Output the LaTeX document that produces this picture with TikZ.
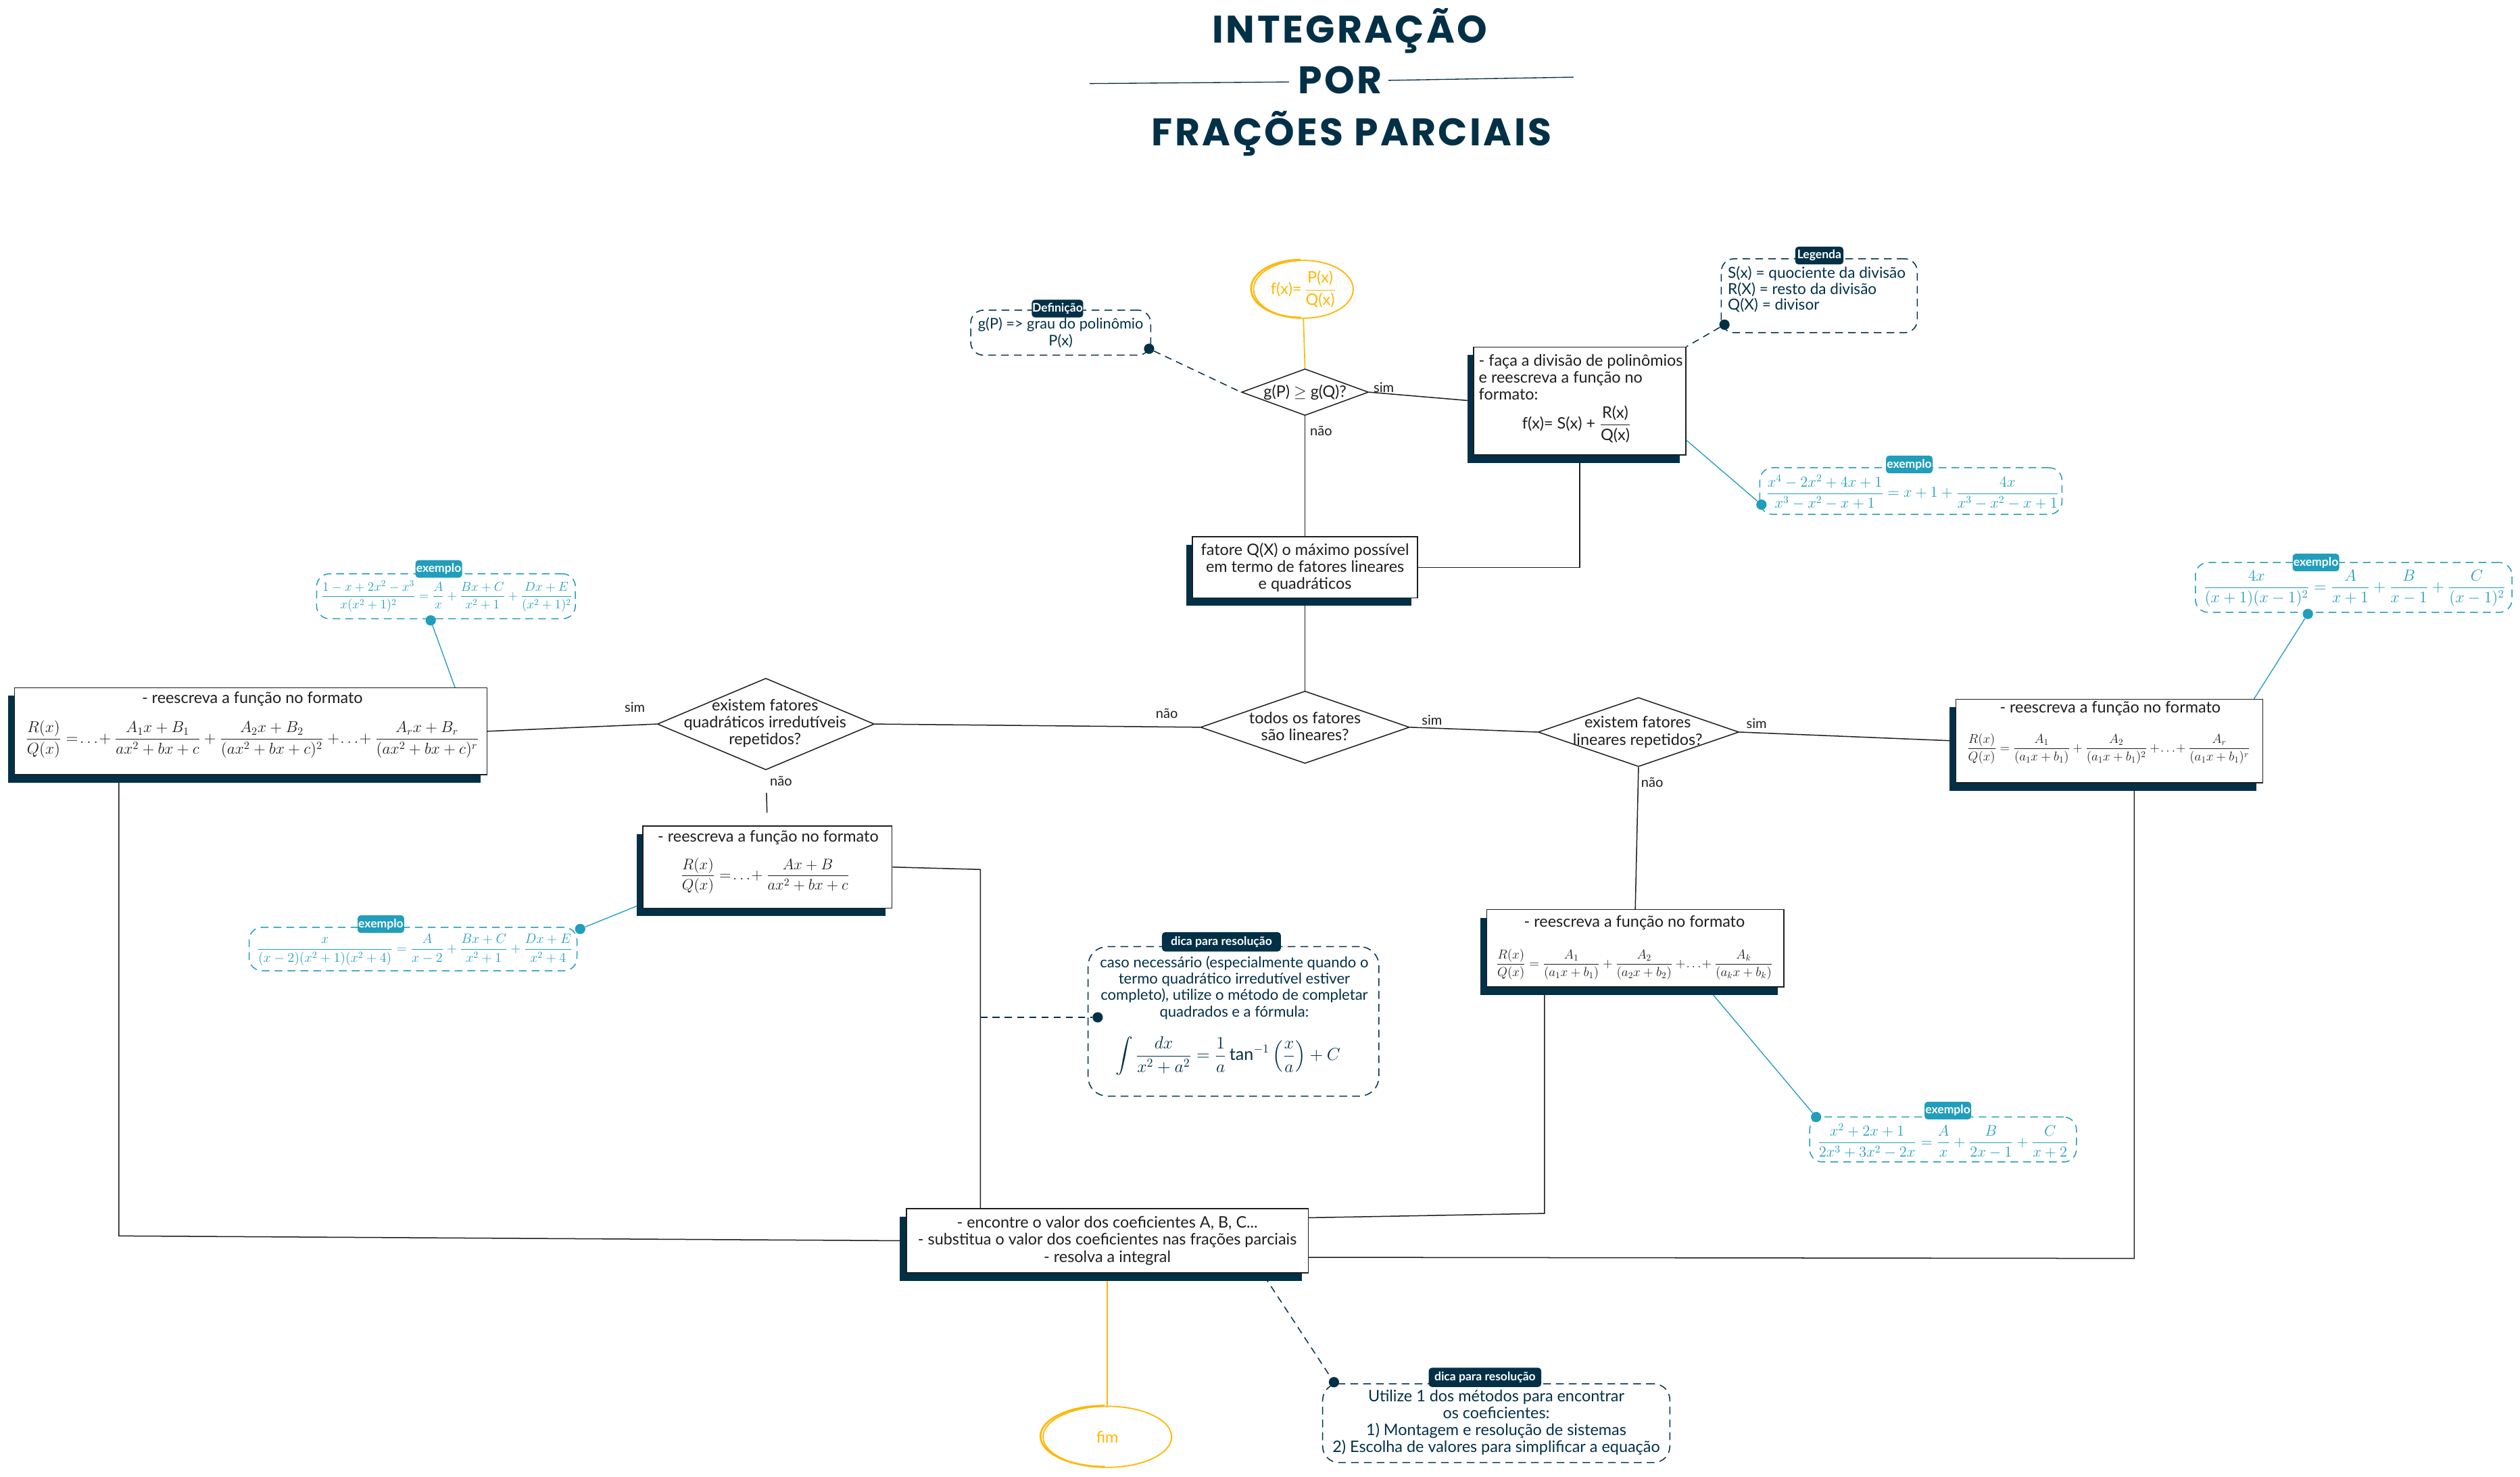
\documentclass[tikz,border=0pt]{standalone}
\usepackage{fontspec}
\usepackage{amsmath}
\usepackage{graphicx}
\usetikzlibrary{shapes.geometric,shadows,backgrounds,calc}
\setmainfont{Lato}
\newfontfamily\titlefont{Poppins}[LetterSpace=6]
\definecolor{cnavy}{HTML}{023047}
\definecolor{cteal}{HTML}{219EBC}
\definecolor{cyel}{HTML}{FFB703}
\definecolor{cink}{HTML}{1E1E1E}
\newcommand{\txt}{\fontsize{14}{15}\selectfont}
\newcommand{\lbltxt}{\fontsize{12}{13}\selectfont}
\newcommand{\tagtxt}{\fontsize{10.5}{11}\selectfont\bfseries}
\newcommand{\ttl}{\titlefont\bfseries\fontsize{34}{36}\selectfont}
\newcommand{\fm}[2]{\resizebox{#1}{!}{$\displaystyle #2$}}
\tikzset{
  mbox/.style={draw=cink, line width=0.9pt, fill=white, inner sep=0pt,
    drop shadow={shadow xshift=-2mm, shadow yshift=-2.5mm, fill=cnavy, opacity=1}},
  dia/.style={draw=cink, line width=0.9pt, diamond, inner sep=0pt, fill=white},
  conn/.style={draw=cink, line width=0.9pt},
  yconn/.style={draw=cyel, line width=1pt},
  tconn/.style={draw=cteal, line width=0.8pt},
  nconn/.style={draw=cnavy, line width=0.9pt, dash pattern=on 2.2mm off 1.6mm},
  nbox/.style={draw=cnavy, line width=0.9pt, dash pattern=on 2.4mm off 1.6mm, rounded corners=4mm, inner sep=0pt},
  tbox/.style={draw=cteal, line width=0.9pt, dash pattern=on 2.4mm off 1.6mm, rounded corners=4mm, inner sep=0pt},
  ntag/.style={fill=cnavy, text=white, rounded corners=1mm, font=\tagtxt, inner sep=0pt, minimum height=5.5mm, minimum width=15mm},
  ttag/.style={fill=cteal, text=white, rounded corners=1mm, font=\tagtxt, inner sep=0pt, minimum height=5.5mm, minimum width=14.5mm},
  ndot/.style={circle, fill=cnavy, inner sep=0pt, minimum size=3.2mm},
  tdot/.style={circle, fill=cteal, inner sep=0pt, minimum size=3.2mm},
  lbl/.style={font=\lbltxt, text=cink, inner sep=0pt},
  body/.style={font=\txt, text=cink, align=center, inner sep=0pt},
  ntx/.style={font=\txt, text=cnavy, align=center, inner sep=0pt},
  ttlst/.style={font=\ttl, text=cnavy, inner sep=0pt},
  yell/.style={ellipse, draw=cyel, line width=1.1pt, text=cyel, font=\txt, inner sep=0pt, fill=white}
}
\begin{document}
\begin{tikzpicture}[x=0.5mm,y=-0.5mm]
\useasboundingbox (0,0) rectangle (1568,919);

% ---------- title ----------
\node[ttlst] (tA) at (840,19) {INTEGRAÇÃO};
\node[ttlst] (tB) at (834,50) {POR};
\node[ttlst] (tC) at (841,83) {FRAÇÕES PARCIAIS};
\draw[cnavy, line width=0.8pt] (678,52) -- (802,51);
\draw[cnavy, line width=0.8pt] (864,50) -- (979,48);

% ---------- start / end ----------
\node[yell, minimum width=31mm, minimum height=18mm] (start) at (811,180)
  {f(x)=\,$\dfrac{\text{P(x)}}{\text{Q(x)}}$};
\draw[cyel, line width=1.6pt] ([xshift=-0.8mm]start.north) arc[start angle=90, end angle=270, x radius=15.5mm, y radius=9mm];
\node[yell, minimum width=40mm, minimum height=19mm] (fim) at (689,894) {fim};
\draw[cyel, line width=1.6pt] ([xshift=-0.8mm]fim.north) arc[start angle=90, end angle=270, x radius=20mm, y radius=9.5mm];

% ---------- decisions ----------
\node[dia, minimum width=39.5mm, minimum height=14.5mm] (d1) at (812,244) {};
\node[body] (d1t) at (d1) {g(P) $\geq$ g(Q)?};
\node[dia, minimum width=65mm, minimum height=22.5mm] (d2) at (812,452.5) {};
\node[body] (d2t) at (812,452) {todos os fatores\\são lineares?};
\node[dia, minimum width=67.5mm, minimum height=28.5mm] (d3) at (476.5,450.5) {};
\node[body] (d3t) at (476,450) {existem fatores\\quadráticos irredutíveis\\repetidos?};
\node[dia, minimum width=62.5mm, minimum height=21.5mm] (d4) at (1019.5,455.5) {};
\node[body] (d4t) at (1019,455.5) {existem fatores\\lineares repetidos?};

% ---------- process boxes ----------
\node[mbox, minimum width=66mm, minimum height=33.5mm] (div) at (983,249.5) {};
\node[body, align=left, anchor=west] (divt) at (920,234.5) {- faça a divisão de polinômios\\e reescreva a função no\\formato:};
\node[body] (divf) at (981,264) {f(x)= S(x) + $\dfrac{\text{R(x)}}{\text{Q(x)}}$};

\node[mbox, minimum width=70mm, minimum height=19mm, font=\txt, align=center, text=cink] (fatore) at (812,353)
  {fatore Q(X) o máximo possível\\em termo de fatores lineares\\e quadráticos};

\node[mbox, minimum width=147mm, minimum height=27mm] (bq) at (156,455) {};
\node[body] (bqt) at (157,435) {- reescreva a função no formato};
\node[body] (bqf) at (157,460) {\fm{141mm}{\frac{R(x)}{Q(x)}=\!\ldots\!+\frac{A_1x+B_1}{ax^2+bx+c}+\frac{A_2x+B_2}{(ax^2+bx+c)^2}+\!\ldots\!+\frac{A_rx+B_r}{(ax^2+bx+c)^r}}};

\node[mbox, minimum width=77.5mm, minimum height=25.5mm] (bqd) at (477.5,539.5) {};
\node[body] (bqdt) at (478,521) {- reescreva a função no formato};
\node[body] (bqdf) at (476,545) {\fm{52.5mm}{\frac{R(x)}{Q(x)}=\!\ldots\!+\frac{Ax+B}{ax^2+bx+c}}};

\node[mbox, minimum width=95.5mm, minimum height=26mm] (blr) at (1312.5,461) {};
\node[body] (blrt) at (1313,441) {- reescreva a função no formato};
\node[body] (blrf) at (1312,466) {\fm{88mm}{\frac{R(x)}{Q(x)}=\frac{A_1}{(a_1x+b_1)}+\frac{A_2}{(a_1x+b_1)^2}+\!\ldots\!+\frac{A_r}{(a_1x+b_1)^r}}};

\node[mbox, minimum width=92.5mm, minimum height=24mm] (bld) at (1017.5,590) {};
\node[body] (bldt) at (1017,574) {- reescreva a função no formato};
\node[body] (bldf) at (1017,600) {\fm{86mm}{\frac{R(x)}{Q(x)}=\frac{A_1}{(a_1x+b_1)}+\frac{A_2}{(a_2x+b_2)}+\!\ldots\!+\frac{A_k}{(a_kx+b_k)}}};

\node[mbox, minimum width=125mm, minimum height=20mm, font=\txt, align=center, text=cink] (final) at (689,772)
  {- encontre o valor dos coeficientes A, B, C...\\- substitua o valor dos coeficientes nas frações parciais\\- resolva a integral};

% ---------- branch labels ----------
\node[lbl] (l1) at (861,241) {sim};
\node[lbl] (l2) at (822,268) {não};
\node[lbl] (l3) at (726,444) {não};
\node[lbl] (l4) at (891,448) {sim};
\node[lbl] (l5) at (395,440) {sim};
\node[lbl] (l6) at (486,486) {não};
\node[lbl] (l7) at (1093,450) {sim};
\node[lbl] (l8) at (1028,487) {não};

% ---------- annotation boxes ----------
\node[nbox, minimum width=61mm, minimum height=23mm] (leg) at (1132,184) {};
\node[ntx, align=left, anchor=west, font=\fontsize{13.5}{14.2}\selectfont] (legt) at (1075,180) {S(x) = quociente da divisão\\R(X) = resto da divisão\\Q(X) = divisor};
\node[ntag] (legtag) at (1132,159) {Legenda};

\node[nbox, minimum width=56mm, minimum height=14mm] (defb) at (660,207) {};
\node[ntx, font=\fontsize{13}{14.5}\selectfont] (deft) at (660,207) {g(P) => grau do polinômio\\P(x)};
\node[ntag, minimum width=16mm] (deftag) at (658,192) {Definição};

\node[tbox, minimum width=94mm, minimum height=14.5mm] (ex1) at (1189,305.5) {};
\node[body, text=cteal] (ex1f) at (1190,306) {\fm{91mm}{\frac{x^4-2x^2+4x+1}{x^3-x^2-x+1}=x+1+\frac{4x}{x^3-x^2-x+1}}};
\node[ttag] (ex1tag) at (1188,289) {exemplo};

\node[tbox, minimum width=80.5mm, minimum height=14mm] (ex2) at (277.5,371) {};
\node[body, text=cteal] (ex2f) at (278,371) {\fm{78mm}{\frac{1-x+2x^2-x^3}{x(x^2+1)^2}=\frac{A}{x}+\frac{Bx+C}{x^2+1}+\frac{Dx+E}{(x^2+1)^2}}};
\node[ttag] (ex2tag) at (273,354) {exemplo};

\node[tbox, minimum width=102mm, minimum height=13.5mm] (ex3) at (257,590.5) {};
\node[body, text=cteal] (ex3f) at (258,591) {\fm{98mm}{\frac{x}{(x-2)(x^2+1)(x^2+4)}=\frac{A}{x-2}+\frac{Bx+C}{x^2+1}+\frac{Dx+E}{x^2+4}}};
\node[ttag] (ex3tag) at (237,575) {exemplo};

\node[tbox, minimum width=98.5mm, minimum height=15.5mm] (ex4) at (1464.5,365.5) {};
\node[body, text=cteal] (ex4f) at (1465,366) {\fm{94mm}{\frac{4x}{(x+1)(x-1)^2}=\frac{A}{x+1}+\frac{B}{x-1}+\frac{C}{(x-1)^2}}};
\node[ttag] (ex4tag) at (1441,350) {exemplo};

\node[tbox, minimum width=83mm, minimum height=14mm] (ex5) at (1209,709) {};
\node[body, text=cteal] (ex5f) at (1209,710) {\fm{78mm}{\frac{x^2+2x+1}{2x^3+3x^2-2x}=\frac{A}{x}+\frac{B}{2x-1}+\frac{C}{x+2}}};
\node[ttag] (ex5tag) at (1212,691) {exemplo};

\node[nbox, rounded corners=6mm, minimum width=90.5mm, minimum height=46.5mm] (dic1) at (767.5,635.5) {};
\node[ntx, font=\fontsize{13.2}{14.6}\selectfont] (dic1t) at (768,614.5) {caso necessário (especialmente quando o\\termo quadrático irredutível estiver\\completo), utilize o método de completar\\quadrados e a fórmula:};
\node[ntx] (dic1f) at (764,657) {\fm{70mm}{\int\frac{dx}{x^2+a^2}=\frac{1}{a}\tan^{-1}\left(\frac{x}{a}\right)+C}};
\node[ntag, minimum width=37mm, minimum height=6mm] (dic1tag) at (760,586) {dica para resolução};

\node[nbox, rounded corners=5mm, minimum width=108mm, minimum height=24.5mm] (dic2) at (931,885.5) {};
\node[ntx, font=\fontsize{14}{15}\selectfont] (dic2t) at (931,885) {Utilize 1 dos métodos para encontrar\\os coeficientes:\\1) Montagem e resolução de sistemas\\2) Escolha de valores para simplificar a equação};
\node[ntag, minimum width=35mm, minimum height=6mm] (dic2tag) at (924,857) {dica para resolução};

% ---------- dots ----------
\node[ndot] (ddef) at (715,217) {};
\node[ndot] (dleg) at (1073,202) {};
\node[tdot] (dex1) at (1096,314) {};
\node[tdot] (dex2) at (268,386) {};
\node[tdot] (dex3) at (361,578) {};
\node[tdot] (dex4) at (1436,382) {};
\node[tdot] (dex5) at (1130,695) {};
\node[ndot] (ddic1) at (683,633) {};
\node[ndot] (ddic2) at (830,860) {};

% ---------- helper coordinates ----------
\coordinate (e1) at (74,769);
\coordinate (e2) at (610,541);
\coordinate (e3) at (1328,783);
\coordinate (e4) at (961,755);
\coordinate (fr1) at ($(final.north east)+(0,6)$);
\coordinate (fr2) at ($(final.south east)+(0,-10)$);
\coordinate (a1) at ($(div.south east)+(-10,-18)$);
\coordinate (a2) at ($(bq.north east)+(-17,9)$);
\coordinate (a3) at ($(bqd.south west)+(10,-7)$);
\coordinate (a4) at ($(blr.north east)+(-7,2)$);
\coordinate (a5) at ($(bld.south east)+(-50,-2)$);
\coordinate (a6) at ($(final.south east)+(-36,-11)$);

% ---------- connectors ----------
\begin{scope}[on background layer]
\fill[white] (0,0) rectangle (1568,919);
\draw[yconn] (start.south) -- (d1.north);
\draw[conn] (d1.east) -- (div.west);
\draw[conn] (d1.south) -- (fatore.north);
\draw[conn] (div.south) |- (fatore.east);
\draw[conn] (fatore.south) -- (d2.north);
\draw[conn] (d2.west) -- (d3.east);
\draw[conn] (d2.east) -- (d4.west);
\draw[conn] (d3.west) -- (bq.east);
\draw[conn, shorten <=7mm, shorten >=4mm] (d3.south) -- (bqd.north);
\draw[conn] (d4.east) -- (blr.west);
\draw[conn] (d4.south) -- (bld.north);
\draw[conn] (bq.south -| e1) -- (e1) -- (final.west);
\draw[conn] (bqd.east) -- (e2) -- (e2 |- final.north);
\draw[conn] (blr.south -| e3) -- (e3) -- (fr2);
\draw[conn] (bld.south -| e4) -- (e4) -- (fr1);
\draw[yconn] (final.south) -- (fim.north);
\draw[nconn] (ddef) -- (d1.west);
\draw[nconn] (dleg) -- (div.north east);
\draw[tconn] (dex1) -- (a1);
\draw[tconn] (dex2) -- (a2);
\draw[tconn] (dex3) -- (a3);
\draw[tconn] (dex4) -- (a4);
\draw[tconn] (dex5) -- (a5);
\draw[nconn] (e2 |- ddic1) -- (ddic1);
\draw[nconn] (a6) -- (ddic2);
\end{scope}
\end{tikzpicture}
\end{document}
